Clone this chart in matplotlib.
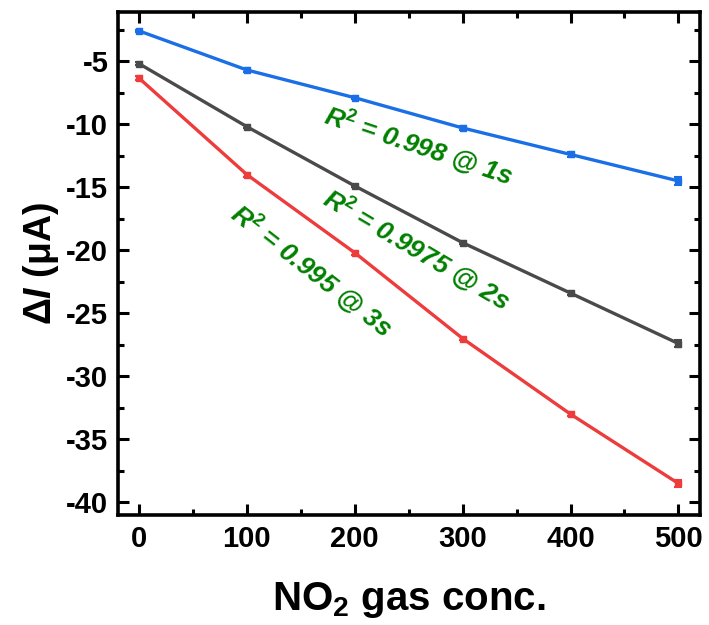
import matplotlib
matplotlib.use("Agg")
import matplotlib.pyplot as plt
from matplotlib.ticker import MultipleLocator

plt.rcParams["font.family"] = ["Liberation Sans", "DejaVu Sans"]
plt.rcParams["font.weight"] = "bold"
plt.rcParams["axes.unicode_minus"] = False
plt.rcParams["mathtext.fontset"] = "custom"
plt.rcParams["mathtext.rm"] = "Liberation Sans:bold"
plt.rcParams["mathtext.it"] = "Liberation Sans:italic:bold"
plt.rcParams["mathtext.bf"] = "Liberation Sans:bold"

conc = [0, 100, 200, 300, 400, 500]
i_1s = [-2.6, -5.7, -7.9, -10.3, -12.4, -14.5]
i_2s = [-5.2, -10.2, -14.9, -19.4, -23.4, -27.4]
i_3s = [-6.35, -14.0, -20.2, -27.0, -33.0, -38.5]
err_1s = [0.1, 0.15, 0.1, 0.15, 0.2, 0.35]
err_2s = [0.1, 0.1, 0.1, 0.1, 0.15, 0.25]
err_3s = [0.15, 0.15, 0.15, 0.15, 0.15, 0.25]

fig = plt.figure(figsize=(7.09, 6.25), dpi=100)
ax = fig.add_axes([118 / 709, 110 / 625, 582 / 709, 503 / 625])

series = [(i_1s, err_1s, "#1a6ee6"), (i_2s, err_2s, "#4a4a4a"), (i_3s, err_3s, "#ee3b3b")]
for y, e, c in series:
    ax.errorbar(conc, y, yerr=e, color=c, linewidth=2.4, marker="s", markersize=4,
                capsize=3, capthick=1.5, elinewidth=1.5)

ax.set_xlim(-19.5, 520)
ax.set_ylim(-41.0, -1.1)
ax.xaxis.set_major_locator(MultipleLocator(100))
ax.xaxis.set_minor_locator(MultipleLocator(50))
ax.yaxis.set_major_locator(MultipleLocator(5))
ax.yaxis.set_minor_locator(MultipleLocator(2.5))
ax.tick_params(which="both", direction="in", top=True, right=True, width=2.2,
               labelsize=21)
ax.tick_params(which="major", length=8, pad=7)
ax.tick_params(which="minor", length=4)
ax.tick_params(axis="x", labeltop=False)
ax.tick_params(axis="y", labelright=False)
for s in ax.spines.values():
    s.set_linewidth(2.6)

ax.set_xlabel("NO$_2$ gas conc.", fontsize=29, fontweight="bold", labelpad=20)
ax.set_ylabel("Δ$\\mathit{I}$ (μA)", fontsize=27, fontweight="bold", labelpad=4)

green = "#008000"
ax.text(259, -11.8, "R$^2$ = 0.998 @ 1s", color=green, fontsize=19, fontstyle="italic",
        fontweight="bold", rotation=-18.5, ha="center", va="center",
        rotation_mode="anchor")
ax.text(257, -20.0, "R$^2$ = 0.9975 @ 2s", color=green, fontsize=19, fontstyle="italic",
        fontweight="bold", rotation=-30.5, ha="center", va="center",
        rotation_mode="anchor")
ax.text(160, -21.7, "R$^2$ = 0.995 @ 3s", color=green, fontsize=19, fontstyle="italic",
        fontweight="bold", rotation=-38, ha="center", va="center",
        rotation_mode="anchor")

fig.savefig("out.png", dpi=100)
